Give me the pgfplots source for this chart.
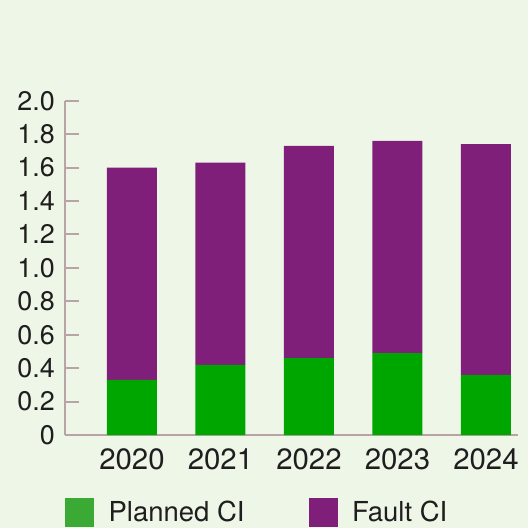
\documentclass[border=0pt]{standalone}
\usepackage{pgfplots}
\pgfplotsset{compat=1.18}
\usepackage{fontspec}
\setmainfont{TeX Gyre Heros}
\definecolor{bg}{RGB}{238,246,232}
\definecolor{barg}{RGB}{0,166,0}
\definecolor{legg}{RGB}{58,170,53}
\definecolor{purp}{RGB}{127,31,122}
\definecolor{axc}{RGB}{184,164,164}
\definecolor{txt}{RGB}{30,30,30}
\begin{document}
\begin{tikzpicture}
\fill[bg] (0,0) rectangle (528bp,528bp);
\useasboundingbox (0,0) rectangle (528bp,528bp);
\begin{axis}[
 at={(65bp,93bp)}, anchor=south west,
 scale only axis, width=453bp, height=334.3bp,
 ybar stacked, bar width=50bp,
 xmin=-0.757, xmax=4.362, ymin=0, ymax=2,
 axis lines*=left,
 axis line style={axc, line width=2bp},
 xtick={0,1,2,3,4}, xticklabels={2020,2021,2022,2023,2024},
 ytick={0,0.2,0.4,0.6,0.8,1.0,1.2,1.4,1.6,1.8,2.0},
 yticklabels={0,0.2,0.4,0.6,0.8,1.0,1.2,1.4,1.6,1.8,2.0},
 tick align=inside, major tick length=14bp,
 y tick style={axc, line width=2bp},
 x tick style={draw=none},
 ticklabel style={font=\fontsize{27}{27}\selectfont, text=txt},
 /pgf/number format/assume math mode=true,
 yticklabel style={inner sep=0pt, xshift=-10bp},
 xticklabel style={inner sep=0pt, yshift=-13bp, font=\fontsize{29.5}{29.5}\selectfont},
 legend style={at={(0,0)}, anchor=north west, yshift=-63bp, draw=none, fill=none, inner sep=0pt,
   font=\fontsize{27.6}{27.6}\selectfont, text=txt,
   /tikz/every odd column/.append style={column sep=15bp},
   /tikz/every even column/.append style={column sep=64bp},
   nodes={inner sep=0pt}},
 legend columns=2,
 legend cell align=left,
 clip=false,
]
\addplot[fill=barg, draw=none, forget plot] coordinates {(0,0.33) (1,0.42) (2,0.46) (3,0.49) (4,0.36)};
\addplot[fill=purp, draw=none, forget plot] coordinates {(0,1.27) (1,1.21) (2,1.27) (3,1.27) (4,1.38)};
\addlegendimage{legend image code/.code={\fill[legg] (0bp,-14bp) rectangle (28bp,14bp);}}
\addlegendentry{Planned CI}
\addlegendimage{legend image code/.code={\fill[purp] (0bp,-14bp) rectangle (28bp,14bp);}}
\addlegendentry{Fault CI}
\end{axis}
\end{tikzpicture}
\end{document}
